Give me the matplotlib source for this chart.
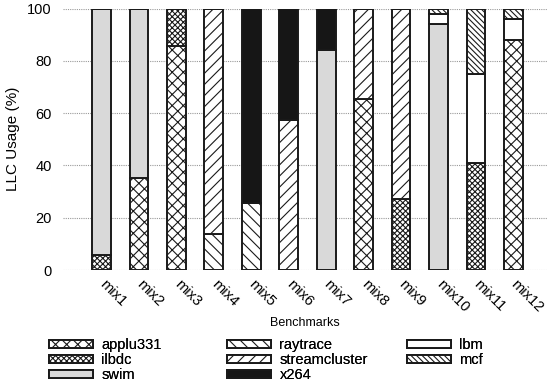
import matplotlib
matplotlib.use("Agg")
import matplotlib.pyplot as plt
import numpy as np

plt.rcParams["font.family"] = ["Liberation Sans", "DejaVu Sans"]
plt.rcParams["hatch.linewidth"] = 0.8

mixes = ["mix1", "mix2", "mix3", "mix4", "mix5", "mix6",
         "mix7", "mix8", "mix9", "mix10", "mix11", "mix12"]

# share (%) of each benchmark per mix, stacked bottom to top in this order
applu331 =      [0, 35.2, 85.8, 0, 0, 0, 0, 65.5, 0, 0, 0, 87.9]
ilbdc =         [5.8, 0, 14.2, 0, 0, 0, 0, 0, 27.3, 0, 40.9, 0]
swim =          [94.2, 64.8, 0, 0, 0, 0, 84.3, 0, 0, 93.9, 0, 0]
raytrace =      [0, 0, 0, 13.9, 25.7, 0, 0, 0, 0, 0, 0, 0]
streamcluster = [0, 0, 0, 86.1, 0, 57.3, 0, 34.5, 72.7, 0, 0, 0]
x264 =          [0, 0, 0, 0, 74.3, 42.7, 15.7, 0, 0, 0, 0, 0]
lbm =           [0, 0, 0, 0, 0, 0, 0, 0, 0, 3.9, 34.0, 8.0]
mcf =           [0, 0, 0, 0, 0, 0, 0, 0, 0, 2.2, 25.1, 4.1]

series = [
    ("applu331", applu331, "white", "xxx"),
    ("ilbdc", ilbdc, "white", "xxxxxx"),
    ("swim", swim, "#d9d9d9", None),
    ("raytrace", raytrace, "white", "\\\\\\"),
    ("streamcluster", streamcluster, "white", "///"),
    ("x264", x264, "#161616", None),
    ("lbm", lbm, "white", None),
    ("mcf", mcf, "white", "\\\\\\\\\\\\"),
]

W, H = 547, 386
fig = plt.figure(figsize=(W / 100, H / 100), dpi=100)
ax = fig.add_axes([63 / W, 1 - 270 / H, 1 - 63 / W, (270 - 8.5) / H])

x = np.arange(len(mixes))
bottom = np.zeros(len(mixes))
handles = []
for name, vals, col, hatch in series:
    vals = np.array(vals, dtype=float)
    b = ax.bar(x, vals, 0.5, bottom=bottom, color=col, edgecolor="#1a1a1a",
               hatch=hatch, linewidth=1.4, label=name, zorder=3)
    bottom += vals
    handles.append(b)

ax.set_xlim(-1.03, 11.9)
ax.set_ylim(0, 100)
ax.set_yticks([0, 20, 40, 60, 80, 100])
ax.yaxis.grid(True, linestyle=(0, (1, 1)), color="#999999", linewidth=0.8, zorder=0)
for s in ax.spines.values():
    s.set_visible(False)
ax.tick_params(axis="both", length=0, labelsize=10.5)
ax.tick_params(axis="y", pad=8)
ax.set_xticks(x)
ax.set_xticklabels(mixes, rotation=-45, ha="left", va="center", rotation_mode="anchor")
ax.tick_params(axis="x", pad=9)
ax.set_ylabel("LLC Usage (%)", fontsize=11, labelpad=5)
ax.set_xlabel("Benchmarks", fontsize=9, labelpad=1)

# three legend columns at fixed positions, as in the original figure
col_x = [49, 227, 407]
groups = [handles[0:3], handles[3:6], handles[6:8]]
for cx, grp in zip(col_x, groups):
    leg = fig.legend(handles=grp, loc="upper left", bbox_to_anchor=(cx / W, 1 - 338 / H),
                     frameon=False, fontsize=10.5, handlelength=3.0, handleheight=0.5,
                     labelspacing=0.08, handletextpad=0.6, borderpad=0, borderaxespad=0)
    fig.add_artist(leg)

fig.savefig("out.png", dpi=100)
